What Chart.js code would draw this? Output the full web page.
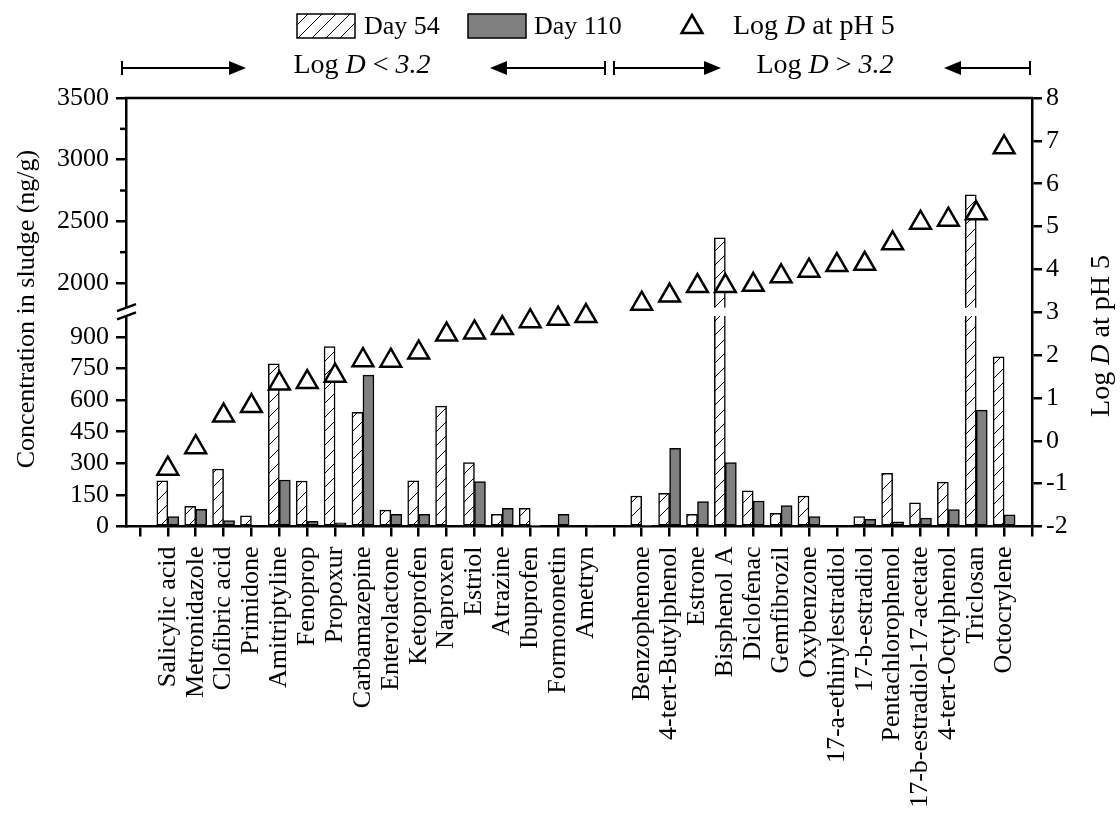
<!DOCTYPE html>
<html>
<head>
<meta charset="utf-8">
<title>Concentration in sludge and Log D</title>
<script src="https://cdn.jsdelivr.net/npm/chart.js"></script>
<style>
  html, body { margin: 0; padding: 0; background: #fff; }
</style>
</head>
<body>
<canvas id="sludgeChart" width="1120" height="815"></canvas>

<script>
// blank slots separate the two Log D groups
const categories = ['', 'Salicylic acid', 'Metronidazole', 'Clofibric acid', 'Primidone', 'Amitriptyline',
    'Fenoprop', 'Propoxur', 'Carbamazepine', 'Enterolactone', 'Ketoprofen', 'Naproxen', 'Estriol',
    'Atrazine', 'Ibuprofen', 'Formononetin', 'Ametryn', '',
    'Benzophenone', '4-tert-Butylphenol', 'Estrone', 'Bisphenol A', 'Diclofenac', 'Gemfibrozil',
    'Oxybenzone', '17-a-ethinylestradiol', '17-b-estradiol', 'Pentachlorophenol',
    '17-b-estradiol-17-acetate', '4-tert-Octylphenol', 'Triclosan', 'Octocrylene', ''];

const day54 = [null, 217, 96, 273, 51, 772, 216, 854, 542, 78, 217, 572, 303, 58, 86, 0, 0, null,
    145, 157, 58, 2367, 169, 63, 145, 0, 47, 252, 113, 211, 2714, 806, null];
const day110 = [null, 47, 82, 28, 0, 221, 25, 18, 719, 58, 58, 0, 213, 86, 3, 58, 7, null,
    5, 371, 118, 303, 121, 99, 47, 0, 34, 22, 40, 80, 553, 55, null];
const logD = [null, -0.65, -0.15, 0.59, 0.81, 1.34, 1.37, 1.52, 1.88, 1.87, 2.06, 2.48, 2.53,
    2.63, 2.79, 2.85, 2.91, null, 3.2, 3.39, 3.61, 3.61, 3.64, 3.84, 3.97, 4.10, 4.13, 4.61,
    5.09, 5.16, 5.31, 6.85, null];

const concTicks = [0, 150, 300, 450, 600, 750, 900, 2000, 2500, 3000, 3500];
const concMinorTicks = [2250, 2750, 3250];
const logDTicks = [-2, -1, 0, 1, 2, 3, 4, 5, 6, 7, 8];

// broken axis: two linear pieces, start/end = fraction of axis height
const BREAK_LOW = 1000, BREAK_HIGH = 1800;
const segments = [
    { from: 0, to: BREAK_LOW, start: 0, end: 0.4914 },
    { from: BREAK_HIGH, to: 3500, start: 0.5107, end: 1 }
];

function fracOf(v) {
    const [lo, hi] = segments;
    if (v <= lo.to) return lo.start + (v - lo.from) / (lo.to - lo.from) * (lo.end - lo.start);
    if (v >= hi.from) return hi.start + (v - hi.from) / (hi.to - hi.from) * (hi.end - hi.start);
    return lo.end + (v - lo.to) / (hi.from - lo.to) * (hi.start - lo.end);
}
function valueOf(f) {
    const [lo, hi] = segments;
    if (f <= lo.end) return lo.from + (f - lo.start) / (lo.end - lo.start) * (lo.to - lo.from);
    if (f >= hi.start) return hi.from + (f - hi.start) / (hi.end - hi.start) * (hi.to - hi.from);
    return lo.to + (f - lo.end) / (hi.start - lo.end) * (hi.from - lo.to);
}

class BrokenLinearScale extends Chart.LinearScale {
    buildTicks() {
        return concTicks.map(v => ({ value: v }));
    }
    getPixelForValue(value) {
        return this.bottom - fracOf(value) * (this.bottom - this.top);
    }
    getValueForPixel(pixel) {
        return valueOf((this.bottom - pixel) / (this.bottom - this.top));
    }
}
BrokenLinearScale.id = 'brokenLinear';
BrokenLinearScale.defaults = Chart.LinearScale.defaults;
Chart.register(BrokenLinearScale);

Chart.defaults.font.family = "'Liberation Serif', 'Times New Roman', serif";
Chart.defaults.color = '#000';

function makeHatch() {
    const c = document.createElement('canvas');
    c.width = 14; c.height = 14;
    const g = c.getContext('2d');
    g.fillStyle = '#fff';
    g.fillRect(0, 0, 14, 14);
    g.strokeStyle = '#000';
    g.lineWidth = 1;
    g.beginPath();
    g.moveTo(-2, 16); g.lineTo(16, -2);
    g.stroke();
    return g.createPattern(c, 'repeat');
}
const hatch = makeHatch();

function points(values) {
    return categories.map((c, i) => ({ x: i, y: values[i] })).filter(p => p.y !== null);
}

function line(ctx, x1, y1, x2, y2) {
    ctx.beginPath();
    ctx.moveTo(x1, y1);
    ctx.lineTo(x2, y2);
    ctx.stroke();
}

// text pieces: [text, italic]
function runsWidth(ctx, runs, size) {
    let w = 0;
    runs.forEach(([t, it]) => {
        ctx.font = (it ? 'italic ' : '') + size + "px 'Liberation Serif'";
        w += ctx.measureText(t).width;
    });
    return w;
}
function drawRuns(ctx, runs, x, y, size) {
    ctx.textBaseline = 'middle';
    ctx.textAlign = 'left';
    runs.forEach(([t, it]) => {
        ctx.font = (it ? 'italic ' : '') + size + "px 'Liberation Serif'";
        ctx.fillText(t, x, y);
        x += ctx.measureText(t).width;
    });
}

function triangle(ctx, x, y, r) {
    ctx.beginPath();
    for (let k = 0; k < 3; k++) {
        const a = k * 2 * Math.PI / 3;
        const px = x + Math.sin(a) * r, py = y - Math.cos(a) * r;
        k ? ctx.lineTo(px, py) : ctx.moveTo(px, py);
    }
    ctx.closePath();
    ctx.fillStyle = '#fff';
    ctx.fill();
    ctx.lineWidth = 2.5;
    ctx.stroke();
}

function arrow(ctx, from, to, y) {
    // end bar at "from", filled head ending at "to"
    const dir = Math.sign(to - from);
    ctx.lineWidth = 2;
    line(ctx, from, y - 7, from, y + 7);
    line(ctx, from, y, to - dir * 16, y);
    ctx.beginPath();
    ctx.moveTo(to, y);
    ctx.lineTo(to - dir * 17, y - 7);
    ctx.lineTo(to - dir * 17, y + 7);
    ctx.closePath();
    ctx.fillStyle = '#000';
    ctx.fill();
}

const decorations = {
    id: 'decorations',
    afterDatasetDraw(chart, args) {
        if (args.meta.type !== 'bar') return;
        const y = chart.scales.y;
        const gTop = y.getPixelForValue(BREAK_HIGH), gBot = y.getPixelForValue(BREAK_LOW);
        const ctx = chart.ctx;
        ctx.save();
        ctx.fillStyle = '#fff';
        args.meta.data.forEach(bar => {
            if (bar.y < gBot) ctx.fillRect(bar.x - bar.width / 2 - 2, gTop, bar.width + 4, gBot - gTop);
        });
        ctx.restore();
    },
    afterDraw(chart) {
        const { ctx, chartArea: a, scales: { y } } = chart;
        ctx.save();
        ctx.strokeStyle = '#000';
        ctx.fillStyle = '#000';
        ctx.lineWidth = 2.5;
        line(ctx, a.left - 1.25, a.top, a.right + 1.25, a.top);
        concMinorTicks.forEach(v => {
            const py = y.getPixelForValue(v);
            line(ctx, a.left - 6, py, a.left, py);
        });

        // axis break
        const gTop = y.getPixelForValue(BREAK_HIGH), gBot = y.getPixelForValue(BREAK_LOW);
        ctx.fillStyle = '#fff';
        ctx.fillRect(a.left - 5, gTop, 10, gBot - gTop);
        ctx.lineWidth = 2.5;
        [gTop, gBot].forEach(py => line(ctx, a.left - 9, py + 3.5, a.left + 10, py - 3.5));

        // axis titles
        ctx.fillStyle = '#000';
        ctx.save();
        ctx.translate(27, 309);
        ctx.rotate(-Math.PI / 2);
        ctx.font = "26px 'Liberation Serif'";
        ctx.textAlign = 'center';
        ctx.textBaseline = 'middle';
        ctx.fillText('Concentration in sludge (ng/g)', 0, 0);
        ctx.restore();

        const rTitle = [['Log ', false], ['D', true], [' at pH 5', false]];
        ctx.save();
        ctx.translate(1102, 336);
        ctx.rotate(-Math.PI / 2);
        drawRuns(ctx, rTitle, -runsWidth(ctx, rTitle, 28) / 2, 0, 28);
        ctx.restore();

        // legend
        ctx.lineWidth = 1.5;
        ctx.fillStyle = hatch;
        ctx.fillRect(297, 14, 58, 24);
        ctx.strokeRect(297, 14, 58, 24);
        ctx.fillStyle = '#808080';
        ctx.fillRect(468, 14, 58, 24);
        ctx.strokeRect(468, 14, 58, 24);
        ctx.fillStyle = '#000';
        drawRuns(ctx, [['Day 54', false]], 364, 27, 26);
        drawRuns(ctx, [['Day 110', false]], 534, 27, 26);
        triangle(ctx, 692, 27, 12);
        ctx.fillStyle = '#000';
        drawRuns(ctx, [['Log ', false], ['D', true], [' at pH 5', false]], 733, 27, 28);

        // Log D groups
        const lowRuns = [['Log ', false], ['D', true], [' < ', false], ['3.2', true]];
        const highRuns = [['Log ', false], ['D', true], [' > ', false], ['3.2', true]];
        drawRuns(ctx, lowRuns, 362 - runsWidth(ctx, lowRuns, 28) / 2, 66, 28);
        drawRuns(ctx, highRuns, 825 - runsWidth(ctx, highRuns, 28) / 2, 66, 28);
        arrow(ctx, 122, 246, 68);
        arrow(ctx, 605, 490, 68);
        arrow(ctx, 614, 721, 68);
        arrow(ctx, 1030, 944, 68);
        ctx.restore();
    }
};

const tickFont = { family: "'Liberation Serif'", size: 26 };
const axisGrid = { drawOnChartArea: false, drawTicks: true, tickLength: 10, color: '#000', lineWidth: 2.5, offset: false };
const axisBorder = { display: true, color: '#000', width: 2.5 };

new Chart(document.getElementById('sludgeChart').getContext('2d'), {
    type: 'bar',
    data: {
        datasets: [
            {
                type: 'line',
                label: 'Log D at pH 5',
                data: points(logD),
                yAxisID: 'y2',
                showLine: false,
                pointStyle: 'triangle',
                pointRadius: 12,
                pointBorderWidth: 2.5,
                borderColor: '#000',
                backgroundColor: '#fff',
                order: 0
            },
            {
                label: 'Day 54',
                data: points(day54),
                yAxisID: 'y',
                backgroundColor: hatch,
                borderColor: '#000',
                borderWidth: 1.5,
                borderSkipped: false,
                barThickness: 11,
                order: 1
            },
            {
                label: 'Day 110',
                data: points(day110),
                yAxisID: 'y',
                backgroundColor: '#808080',
                borderColor: '#000',
                borderWidth: 1.5,
                borderSkipped: false,
                barThickness: 11,
                order: 2
            }
        ]
    },
    options: {
        responsive: false,
        animation: false,
        events: [],
        layout: { padding: { top: 98, left: 0, right: 0, bottom: 0 } },
        plugins: { legend: { display: false }, tooltip: { enabled: false } },
        scales: {
            x: {
                type: 'linear',
                offset: false,
                min: -0.5,
                max: 32,
                afterBuildTicks: s => { s.ticks = categories.map((c, i) => ({ value: i })); },
                afterFit: s => { s.height = 288.5; },
                ticks: {
                    autoSkip: false,
                    minRotation: 90,
                    maxRotation: 90,
                    padding: 10,
                    font: tickFont,
                    callback: v => categories[v] || ''
                },
                grid: axisGrid,
                border: axisBorder
            },
            y: {
                type: 'brokenLinear',
                position: 'left',
                min: 0,
                max: 3500,
                afterFit: s => { s.width = 126; },
                ticks: { autoSkip: false, padding: 7, font: tickFont, callback: v => String(v) },
                grid: axisGrid,
                border: axisBorder
            },
            y2: {
                type: 'linear',
                position: 'right',
                min: -2,
                max: 8,
                afterBuildTicks: s => { s.ticks = logDTicks.map(v => ({ value: v })); },
                afterFit: s => { s.width = 88; },
                ticks: { autoSkip: false, padding: 4, font: tickFont, callback: v => String(v) },
                grid: axisGrid,
                border: axisBorder
            }
        }
    },
    plugins: [decorations]
});
</script>
</body>
</html>
